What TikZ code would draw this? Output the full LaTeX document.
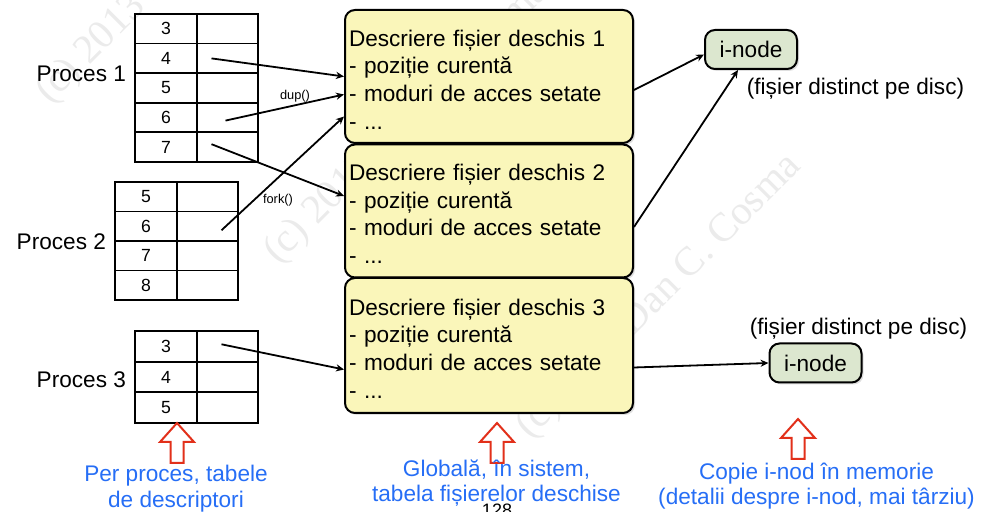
\documentclass[tikz,border=0pt]{standalone}
\usepackage{fontspec}
\setmainfont{Liberation Sans}
\newfontfamily\wmfont{Liberation Serif}
\usetikzlibrary{arrows.meta,shadows}
\definecolor{descyellow}{RGB}{250,246,186}
\definecolor{inodegreen}{RGB}{220,231,207}
\definecolor{noteblue}{RGB}{38,110,246}
\definecolor{markred}{RGB}{226,48,26}
\def\redup(#1,#2){\draw[markred, line width=1pt, fill=white, line join=miter] (#1,#2) -- ++(17,19) -- ++(-10.5,0) -- ++(0,21) -- ++(-13,0) -- ++(0,-21) -- ++(-10.5,0) -- cycle;}

\tikzset{
	numcell/.style={draw, line width=0.9pt, minimum width=31pt, minimum height=14.8pt, inner sep=0pt, font=\fontsize{8.8}{10}\selectfont},
	ptrcell/.style={numcell, minimum width=30.5pt},
	descbox/.style={draw, line width=1pt, rounded corners=5pt, fill=descyellow, minimum width=144pt, minimum height=66.5pt, text width=140pt, inner xsep=2pt, align=left, execute at begin node={\rule{0pt}{11.2pt}}, drop shadow={opacity=0.25, shadow xshift=1pt, shadow yshift=-1pt}},
	inode/.style={draw, line width=1pt, rounded corners=5pt, fill=inodegreen, minimum width=46pt, minimum height=19.5pt, drop shadow={opacity=0.25, shadow xshift=1pt, shadow yshift=-1pt}},
	ptr/.style={-{Stealth[length=4pt,width=3.6pt]}, line width=0.9pt},
	note/.style={text=noteblue, align=center, font=\fontsize{11.3}{12.8}\selectfont},
	small/.style={font=\fontsize{6.4}{7.5}\selectfont},
	wm/.style={font=\wmfont\fontsize{20.3}{24}\selectfont, text=black!8, rotate=45, anchor=base west, inner sep=0pt}
}

\begin{document}
\begin{tikzpicture}[x=0.5pt, y=-0.5pt, font=\fontsize{11.3}{13.8}\selectfont]
	\fill[white] (0,0) rectangle (1000,512);
	\useasboundingbox (0,0) rectangle (1000,512);
	
	%%%%% watermark %%%%%
	\node[wm] (wm1) at (50,105) {(c) 2013 Dan C. Cosma};
	\node[wm] (wm2) at (278,265) {(c) 2013 Dan C. Cosma};
	\node[wm] (wm3) at (530,440) {(c) 2013 Dan C. Cosma};
	
	%%%%% descriptor tables %%%%%
	\foreach \n [count=\i from 0] in {3,4,5,6,7} {
		\node[numcell] (p1n\n) at (166, 28.8+29.6*\i) {\n};
		\node[ptrcell] (p1p\n) at (227.5, 28.8+29.6*\i) {};
	}
	\foreach \n [count=\i from 0] in {5,6,7,8} {
		\node[numcell] (p2n\n) at (146, 196.75+29.5*\i) {\n};
		\node[ptrcell] (p2p\n) at (207.5, 196.75+29.5*\i) {};
	}
	\foreach \n [count=\i from 0] in {3,4,5} {
		\node[numcell, minimum height=15.3pt] (p3n\n) at (166, 346.3+30.67*\i) {\n};
		\node[ptrcell, minimum height=15.3pt] (p3p\n) at (227.5, 346.3+30.67*\i) {};
	}
	
	\node[anchor=east] (proc1) at (133,74) {Proces 1};
	\node[anchor=east] (proc2) at (113,242) {Proces 2};
	\node[anchor=east] (proc3) at (133,380) {Proces 3};
	
	%%%%% open file table %%%%%
	\node[descbox] (desc1) at (489,76.5) {Descriere fișier deschis 1\\- poziție curentă\\- moduri de acces setate\\- ...};
	\node[descbox] (desc2) at (489,211) {Descriere fișier deschis 2\\- poziție curentă\\- moduri de acces setate\\- ...};
	\node[descbox, minimum height=67.5pt] (desc3) at (489,345.5) {Descriere fișier deschis 3\\- poziție curentă\\- moduri de acces setate\\- ...};
	
	%%%%% i-nodes %%%%%
	\node[inode] (inode1) at (751,49.5) {i-node};
	\node (disk1) at (855.5,89) {(fișier distinct pe disc)};
	\node[inode] (inode2) at (815.5,363) {i-node};
	\node (disk2) at (858.5,329) {(fișier distinct pe disc)};
	
	%%%%% pointers %%%%%
	\draw[ptr] ([xshift=-8pt]p1p4.center) -- (desc1.west);
	\draw[ptr] ([xshift=-1pt,yshift=-1.5pt]p1p6.center) -- ([yshift=-9pt]desc1.west);
	\draw[ptr] ([xshift=7pt,yshift=-2pt]p2p6.center) -- ([yshift=-20pt]desc1.west);
	\draw[ptr] ([xshift=-8pt,yshift=1.5pt]p1p7.center) -- ([yshift=7.5pt]desc2.west);
	\draw[ptr] ([xshift=-3pt,yshift=1pt]p3p3.center) -- ([yshift=-12pt]desc3.west);
	\draw[ptr] ([yshift=-6.75pt]desc1.east) -- ([yshift=-2.5pt]inode1.west);
	\draw[ptr] ([yshift=-8pt]desc2.east) -- ([xshift=-6.5pt]inode1.south);
	\draw[ptr] ([yshift=-11pt]desc3.east) -- (inode2.west);
	
	\node[small] (dup) at (295,96) {dup()};
	\node[small] (fork) at (278,200) {fork()};
	
	%%%%% notes %%%%%
	\redup(177,423);
	\redup(497,423);
	\redup(798,419);
	
	\node[note] (notetab) at (176,488.5) {Per proces, tabele\\de descriptori};
	\node[note] (noteglob) at (496.5,483) {Globală, în sistem,\\tabela fișierelor deschise};
	\node[note] (notecopy) at (816.5,486) {Copie i-nod în memorie\\(detalii despre i-nod, mai târziu)};
	
	\node[font=\fontsize{9}{10}\selectfont, anchor=north, inner sep=0pt] (pagenum) at (497,504) {128};
\end{tikzpicture}
\end{document}
